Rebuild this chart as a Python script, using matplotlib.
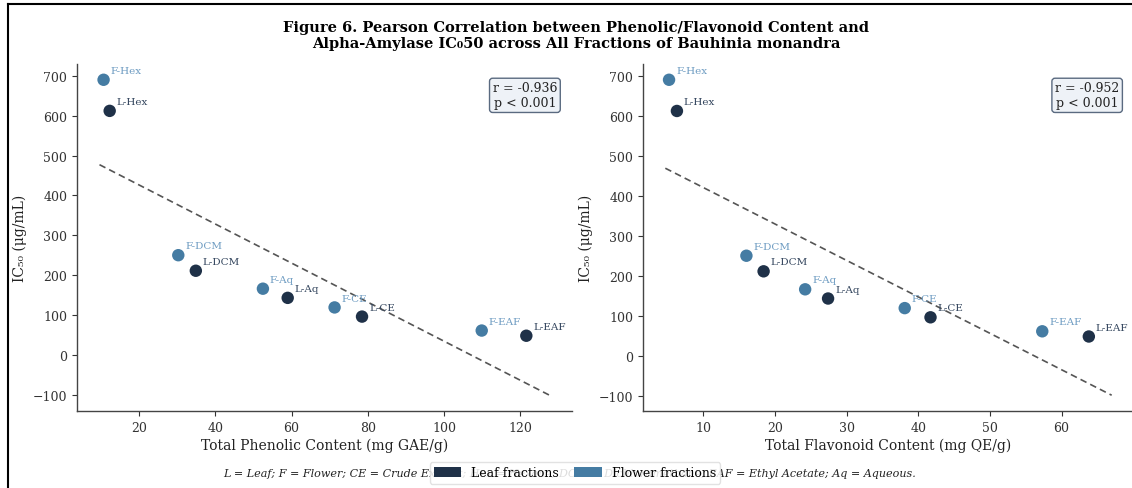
import numpy as np
import matplotlib
matplotlib.use("Agg")
import matplotlib.pyplot as plt
from matplotlib.patches import Patch
from matplotlib.lines import Line2D

plt.rcParams['font.family'] = ['DejaVu Serif', 'DejaVu Sans']

# ---- data ----
labels = ["F-Hex", "L-Hex", "F-DCM", "L-DCM", "F-Aq", "L-Aq", "F-CE", "L-CE", "F-EAF", "L-EAF"]
part = ["F", "L", "F", "L", "F", "L", "F", "L", "F", "L"]
tpc = [10.7, 12.3, 30.3, 34.9, 52.5, 59.0, 71.3, 78.5, 109.9, 121.6]
tfc = [5.2, 6.3, 16.0, 18.4, 24.2, 27.4, 38.1, 41.7, 57.3, 63.8]
ic50 = [690, 612, 250, 211, 166, 143, 119, 96, 61, 48]
r_text = ["r = -0.936\np < 0.001", "r = -0.952\np < 0.001"]
xlabels = ["Total Phenolic Content (mg GAE/g)", "Total Flavonoid Content (mg QE/g)"]

leaf_c = "#1f3148"
flower_c = "#457ca3"
leaf_txt = "#34465e"
flower_txt = "#6e9cc2"

fig = plt.figure(figsize=(11.32, 4.89), dpi=100)
W, H = 1132, 489

def ax_rect(x0, x1, ytop, ybot):
    return [x0 / W, 1 - ybot / H, (x1 - x0) / W, (ybot - ytop) / H]

axes = [fig.add_axes(ax_rect(77, 572, 65, 412)),
        fig.add_axes(ax_rect(643, 1134, 65, 412))]

for ax, xs, xl, rt in zip(axes, [tpc, tfc], xlabels, r_text):
    xs = np.array(xs, float)
    ys = np.array(ic50, float)
    m, b = np.polyfit(xs, ys, 1)
    xl_line = np.linspace(xs.min() * 0.9, xs.max() * 1.05, 50)
    ax.plot(xl_line, m * xl_line + b, ls=(0, (4, 2.5)), color="#555555", lw=1.2, zorder=1)
    for x, y, lab, p in zip(xs, ys, labels, part):
        c = leaf_c if p == "L" else flower_c
        tc = leaf_txt if p == "L" else flower_txt
        ax.scatter([x], [y], s=80, color=c, zorder=3, edgecolors='none')
        ax.annotate(lab, (x, y), xytext=(5, 3.5), textcoords="offset points",
                    fontsize=7.5, color=tc, ha="left", va="bottom")
    ax.text(0.97, 0.95, rt, transform=ax.transAxes, ha="right", va="top",
            multialignment="center", fontsize=9, color="#222222",
            bbox=dict(boxstyle="round,pad=0.25", fc="#eef2f7", ec="#5a6a80", lw=1.0))
    ax.set_xlabel(xl, fontsize=10, color="#222222", labelpad=3)
    ax.set_ylabel("IC₅₀ (μg/mL)", fontsize=10, color="#222222")
    ax.set_yticks([-100, 0, 100, 200, 300, 400, 500, 600, 700])
    for s in ["top", "right"]:
        ax.spines[s].set_visible(False)
    for s in ["left", "bottom"]:
        ax.spines[s].set_color("#444444")
        ax.spines[s].set_linewidth(1.0)
    ax.tick_params(labelsize=9, colors="#333333", length=3.5)
    ax.set_facecolor("none")

axes[0].set_xticks([20, 40, 60, 80, 100, 120])
axes[1].set_xticks([10, 20, 30, 40, 50, 60])

fig.text(576 / W, 1 - 36 / H,
         "Figure 6. Pearson Correlation between Phenolic/Flavonoid Content and\n"
         "Alpha-Amylase IC₀50 across All Fractions of Bauhinia monandra",
         ha="center", va="center", fontsize=10.5, fontweight="bold", linespacing=1.2)

fig.text(570 / W, 1 - 474 / H,
         "L = Leaf; F = Flower; CE = Crude Extract; Hex = Hexane; DCM = Dichloromethane; "
         "EAF = Ethyl Acetate; Aq = Aqueous.",
         ha="center", va="center", fontsize=8, style="italic", color="#222222")

handles = [Patch(facecolor=leaf_c, label="Leaf fractions"),
           Patch(facecolor=flower_c, label="Flower fractions")]
fig.legend(handles=handles, loc="center", bbox_to_anchor=(575 / W, 1 - 474 / H), ncol=2,
           fontsize=9, frameon=True, framealpha=0.85, edgecolor="#dddddd",
           handlelength=2.2, handleheight=0.8, columnspacing=1.2, borderpad=0.35)

fig.add_artist(Line2D([7.5 / W, 1], [1 - 4.5 / H, 1 - 4.5 / H], transform=fig.transFigure,
                      color="black", lw=1.5))
fig.add_artist(Line2D([7.5 / W, 7.5 / W], [0, 1 - 4.5 / H], transform=fig.transFigure,
                      color="black", lw=1.5))

fig.savefig("out.png", dpi=100)
